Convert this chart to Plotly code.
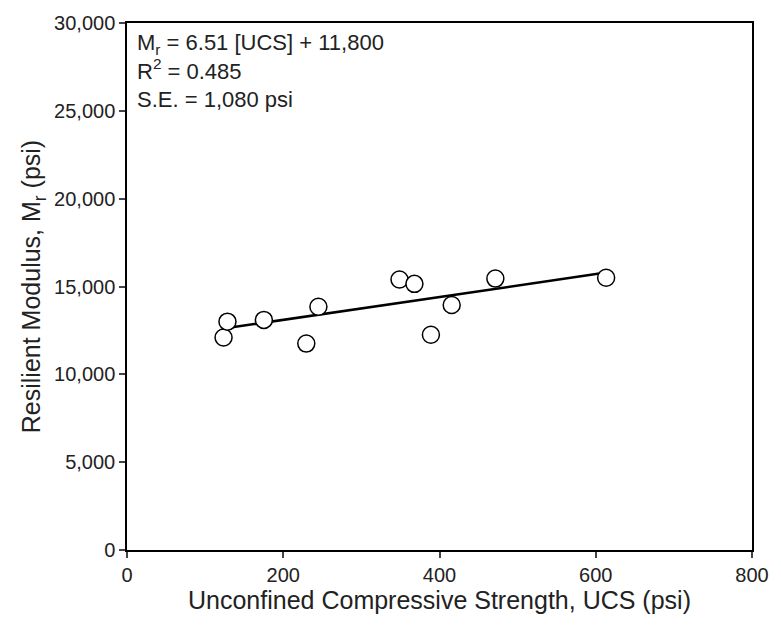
import plotly.graph_objects as go

ucs = [123.6, 128.6, 175.2, 229.5, 245.0, 348.8, 367.9, 389.0, 415.6, 471.5, 613.3]
mr = [12100, 13000, 13100, 11750, 13850, 15400, 15150, 12250, 13950, 15450, 15500]
slope = 6.51
intercept = 11800
x_ticks = [0, 200, 400, 600, 800]
y_ticks = [0, 5000, 10000, 15000, 20000, 25000, 30000]

fit_x = [min(ucs), max(ucs)]
fit_y = [slope * v + intercept for v in fit_x]

fig = go.Figure()
fig.add_trace(go.Scatter(x=fit_x, y=fit_y, mode="lines",
                         line=dict(color="black", width=2.5), showlegend=False))
fig.add_trace(go.Scatter(x=ucs, y=mr, mode="markers",
                         marker=dict(symbol="circle", size=17, color="white",
                                     line=dict(color="black", width=1.5)),
                         showlegend=False))

font = "Liberation Sans, Arial, sans-serif"
fig.update_layout(
    width=781, height=625,
    margin=dict(l=127, r=22, t=19, b=75),
    plot_bgcolor="white", paper_bgcolor="white",
    font=dict(family=font, color="#222", size=20),
    xaxis=dict(range=[0, 800], tickvals=x_ticks, ticks="outside", ticklen=6,
               tickwidth=1.5, showline=True, linecolor="black", linewidth=1.5,
               mirror=True, showgrid=False, zeroline=False,
               title=dict(text="Unconfined Compressive Strength, UCS (psi)",
                          font=dict(size=25), standoff=7),
               tickfont=dict(size=20)),
    yaxis=dict(range=[0, 30000], tickvals=y_ticks, ticks="outside", ticklen=6,
               tickwidth=1.5, tickformat=",d", showline=True, linecolor="black",
               linewidth=1.5, mirror=True, showgrid=False, zeroline=False,
               title=dict(text="Resilient Modulus, M<sub>r</sub> (psi)",
                          font=dict(size=25), standoff=6),
               tickfont=dict(size=20)),
    annotations=[dict(
        xref="paper", yref="paper", x=0.012, y=0.99, xanchor="left", yanchor="top",
        align="left", showarrow=False,
        text="M<sub>r</sub> = 6.51 [UCS] + 11,800<br>R<sup>2</sup> = 0.485<br>S.E. = 1,080 psi",
        font=dict(size=22, color="#222", family=font))]
)
fig.write_html("out.html", config={"displayModeBar": False},
               post_script="document.body.style.margin='0';document.body.style.overflow='hidden';document.documentElement.style.overflow='hidden';")
